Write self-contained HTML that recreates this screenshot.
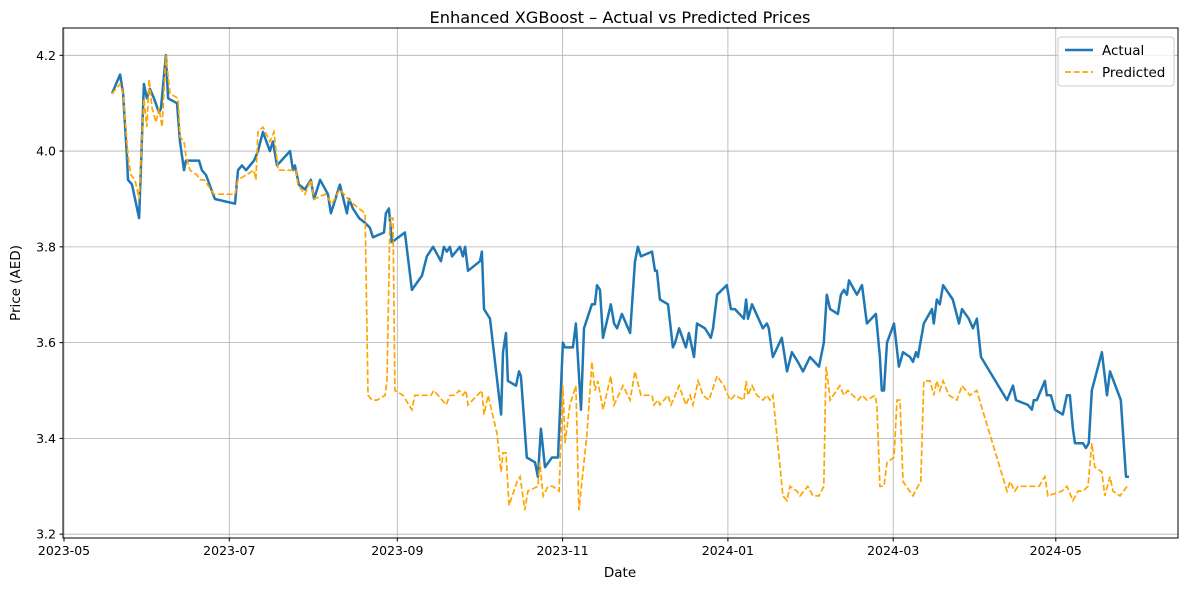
<!DOCTYPE html>
<html><head><meta charset="utf-8"><style>
body{margin:0;background:#fff;}
svg{display:block;font-family:"DejaVu Sans","Liberation Sans",sans-serif;}
</style></head><body>
<svg id="chart" width="1190" height="590" viewBox="0 0 1190 590" xmlns="http://www.w3.org/2000/svg">
<rect width="1190" height="590" fill="#fff"/>
<text x="620" y="23" text-anchor="middle" font-size="16.2" fill="#000">Enhanced XGBoost – Actual vs Predicted Prices</text>
<g id="grid"></g>
<g id="series"></g>
<rect x="63" y="28" width="1115" height="510" fill="none" stroke="#000" stroke-width="1"/>
<g id="ticks"></g>
<text x="620" y="577" text-anchor="middle" font-size="13.5">Date</text>
<text transform="translate(20,283) rotate(-90)" text-anchor="middle" font-size="13.5">Price (AED)</text>
<g>
<rect x="1058" y="37" width="116" height="49" rx="3" fill="#fff" fill-opacity="0.8" stroke="#ccc"/>
<g><line x1="1065" y1="50" x2="1093" y2="50" stroke="#1f77b4" stroke-width="2.5"/><text x="1102" y="55" font-size="13.5">Actual</text></g>
<g><line x1="1065" y1="72" x2="1093" y2="72" stroke="orange" stroke-width="1.7" stroke-dasharray="6,2.6"/><text x="1102" y="77" font-size="13.5">Predicted</text></g>
</g>
</svg>
<script>
// days since 2023-05-01
const actualDays=[17.7,20.7,21.8,23.2,23.6,25.1,27.7,29.5,30.6,31.7,33.2,35.1,35.8,37.6,38.4,41.7,42.8,44.3,45,49.8,50.9,52.4,55.7,63.1,64.2,65.7,67.2,70.1,71.6,73.4,76,77.1,78.6,83.4,84.5,85.2,86.7,88.9,91.1,92.3,94.5,97.4,98.5,101.8,104.4,105.2,106.6,108.9,111.1,112.9,114,118.1,118.8,119.9,121,125.8,128.4,132.1,133.9,136.2,139.1,140.2,141.3,142.4,143.2,146.1,147.2,148,149.1,153.5,154.2,155,157.2,161.3,162,163.1,163.8,166.8,167.9,168.6,170.8,173.8,174.9,176,177.5,180.1,182.3,184.1,184.9,187.8,188.9,190.8,191.9,194.8,195.9,196.7,197.8,198.9,201.8,203,204.1,205.9,208.9,210.7,211.8,212.9,217,218.1,218.8,219.9,222.9,224.7,225.5,227,229.5,230.6,232.5,233.6,236.5,237.6,238.7,239.5,241,244.6,246.1,247.6,250.9,251.7,252.4,253.9,257.9,259.4,260.1,261.3,261.6,264.9,266.8,268.6,270.8,272.7,275.3,278.6,280.4,281.5,282.7,285.6,286.7,287.8,288.9,289.7,292.6,294.5,296.3,299.6,301.1,301.8,302.6,303.7,306.3,308.1,309.6,312.2,313.3,314.4,315.1,317.3,320.3,321,322.1,323.2,324.4,328,330.3,331.4,333.9,335.4,336.9,338.4,348,350.2,351.3,355.7,357.2,357.9,359,362,362.7,364.2,365.7,368.6,370.1,371.2,372.3,373.1,376,377.1,378.2,379.3,383,384.9,386,390,391.9,393];
const actualValues=[4.12,4.16,4.12,3.99,3.94,3.93,3.86,4.14,4.11,4.13,4.11,4.08,4.09,4.2,4.11,4.1,4.02,3.96,3.98,3.98,3.96,3.95,3.9,3.89,3.96,3.97,3.96,3.98,4.0,4.04,4.0,4.02,3.97,4.0,3.96,3.97,3.93,3.92,3.94,3.9,3.94,3.91,3.87,3.93,3.87,3.9,3.88,3.86,3.85,3.84,3.82,3.83,3.87,3.88,3.81,3.83,3.71,3.74,3.78,3.8,3.77,3.8,3.79,3.8,3.78,3.8,3.78,3.8,3.75,3.77,3.79,3.67,3.65,3.45,3.58,3.62,3.52,3.51,3.54,3.53,3.36,3.35,3.32,3.42,3.34,3.36,3.36,3.6,3.59,3.59,3.64,3.46,3.63,3.68,3.68,3.72,3.71,3.61,3.68,3.64,3.63,3.66,3.62,3.77,3.8,3.78,3.79,3.75,3.75,3.69,3.68,3.59,3.6,3.63,3.59,3.62,3.57,3.64,3.63,3.62,3.61,3.63,3.7,3.72,3.67,3.67,3.65,3.69,3.65,3.68,3.63,3.64,3.63,3.58,3.57,3.61,3.54,3.58,3.56,3.54,3.57,3.55,3.6,3.7,3.67,3.66,3.7,3.71,3.7,3.73,3.7,3.72,3.64,3.66,3.57,3.5,3.5,3.6,3.64,3.55,3.58,3.57,3.56,3.58,3.57,3.64,3.67,3.64,3.69,3.68,3.72,3.69,3.64,3.67,3.65,3.63,3.65,3.57,3.48,3.51,3.48,3.47,3.46,3.48,3.48,3.52,3.49,3.49,3.46,3.45,3.49,3.49,3.42,3.39,3.39,3.38,3.39,3.5,3.58,3.49,3.54,3.48,3.32,3.32];
const predDays=[17.7,20.7,21.8,23.6,24.7,26.2,27.7,29.5,30.6,31.4,32.5,33.9,35.1,36.2,37.6,39.1,42.1,42.8,44.3,45,46.5,49.1,50.2,51.7,55.4,63.1,64.2,67.2,70.1,70.8,71.6,73.4,76,77.5,79,84.1,85.6,86.3,88.9,91.1,92.3,96.3,98.9,101.8,104.8,106.6,111.1,112.2,113.7,115.5,118.5,119.2,120.3,121.4,122.1,125.1,128.4,129.5,133.9,135.4,136.5,141,142.4,144.3,145.8,147.2,148.3,149.1,154.2,155,156.5,159.8,161.3,162,163.1,164.2,167.2,168.3,170.1,171.2,174.9,175.6,176.8,178.6,180.4,182.7,184.1,184.9,186.7,188.9,190,193,194.8,195.9,197,198.9,201.8,203,206.3,208.9,210.7,212.9,217,217.7,219.2,219.9,222.9,224,227,229.5,231,232.1,234,235.8,238,241,243.5,245.8,247.6,250.9,251.7,252.4,253.9,255.7,257.9,259.4,260.5,261.6,265.3,266.8,267.9,270.5,271.6,274.5,276.4,278.6,280.4,281.2,281.9,282.7,286.3,287.8,289.3,291.1,293,294.5,296.3,299.3,300,301.1,302.6,303.7,306.3,307.4,308.5,309.6,313.3,315.1,316.2,317.3,319.6,321,322.1,323.2,324.4,326.6,329.5,331.4,334.3,336.9,338.4,348,349.1,350.9,352,357.2,359,359.8,362,363.1,368.3,370.1,372.3,374.2,376,377.9,379.3,380.4,383,384.1,386,387.1,389.7,392.3];
const predValues=[4.12,4.14,4.12,3.99,3.95,3.94,3.9,4.11,4.05,4.15,4.09,4.06,4.09,4.05,4.2,4.12,4.11,4.03,4.02,3.99,3.96,3.95,3.94,3.94,3.91,3.91,3.94,3.95,3.96,3.94,4.04,4.05,4.02,4.04,3.96,3.96,3.96,3.93,3.91,3.94,3.9,3.91,3.89,3.92,3.9,3.89,3.87,3.49,3.48,3.48,3.49,3.52,3.86,3.86,3.5,3.49,3.46,3.49,3.49,3.49,3.5,3.47,3.49,3.49,3.5,3.49,3.5,3.47,3.5,3.45,3.49,3.41,3.33,3.37,3.37,3.26,3.31,3.32,3.25,3.29,3.3,3.35,3.28,3.3,3.3,3.29,3.51,3.39,3.47,3.51,3.25,3.41,3.56,3.5,3.52,3.46,3.53,3.47,3.51,3.48,3.54,3.49,3.49,3.47,3.48,3.47,3.49,3.47,3.51,3.47,3.49,3.47,3.52,3.49,3.48,3.53,3.51,3.48,3.49,3.48,3.52,3.49,3.51,3.49,3.48,3.49,3.48,3.49,3.28,3.27,3.3,3.29,3.28,3.3,3.28,3.28,3.3,3.55,3.52,3.48,3.51,3.49,3.5,3.49,3.48,3.49,3.48,3.49,3.47,3.3,3.3,3.35,3.36,3.48,3.48,3.31,3.28,3.3,3.31,3.52,3.52,3.49,3.52,3.5,3.52,3.49,3.48,3.51,3.49,3.5,3.47,3.29,3.31,3.29,3.3,3.3,3.3,3.3,3.32,3.28,3.29,3.3,3.27,3.29,3.29,3.3,3.39,3.34,3.33,3.28,3.32,3.29,3.28,3.3];
const yTickValues=[3.2,3.4,3.6,3.8,4.0,4.2];
const yTickLabels=["3.2","3.4","3.6","3.8","4.0","4.2"];
const xTickDays=[0,61,123,184,245,306,366];
const xTickLabels=["2023-05","2023-07","2023-09","2023-11","2024-01","2024-03","2024-05"];

const NS="http://www.w3.org/2000/svg";
const L=63,R=1178,T=28,B=538,D0=-0.37,D1=411.1,V0=3.192,V1=4.257;
const xs=d=>L+(d-D0)/(D1-D0)*(R-L);
const ys=v=>B-(v-V0)/(V1-V0)*(B-T);
function mk(tag,attrs,parent){const e=document.createElementNS(NS,tag);for(const k in attrs)e.setAttribute(k,attrs[k]);parent.appendChild(e);return e;}
const grid=document.getElementById('grid'),ticks=document.getElementById('ticks'),series=document.getElementById('series');
yTickValues.forEach((v,i)=>{const y=ys(v);
 const g=mk('line',{x1:L,x2:R,y1:y,y2:y,stroke:'#b0b0b0','stroke-width':0.8},grid);
 
 
 mk('line',{x1:L-3.5,x2:L,y1:y,y2:y,stroke:'#000'},ticks);
 const t=mk('text',{x:L-7,y:y+4.5,'text-anchor':'end','font-size':12.5},ticks);t.textContent=yTickLabels[i];
 
 
});
xTickDays.forEach((d,i)=>{const x=xs(d);
 const g=mk('line',{x1:x,x2:x,y1:T,y2:B,stroke:'#b0b0b0','stroke-width':0.8},grid);
 
 
 mk('line',{x1:x,x2:x,y1:B,y2:B+3.5,stroke:'#000'},ticks);
 const t=mk('text',{x:x,y:B+17,'text-anchor':'middle','font-size':12.5},ticks);t.textContent=xTickLabels[i];
 
 
});
function path(days,vals){return days.map((d,i)=>(i?'L':'M')+xs(d).toFixed(1)+','+ys(vals[i]).toFixed(1)).join('');}
const pa=mk('path',{d:path(actualDays,actualValues),fill:'none',stroke:'#1f77b4','stroke-width':2.5,'stroke-linejoin':'round'},series);


const pp=mk('path',{d:path(predDays,predValues),fill:'none',stroke:'orange','stroke-width':1.7,'stroke-dasharray':'6,2.6'},series);


</script>
</body></html>
